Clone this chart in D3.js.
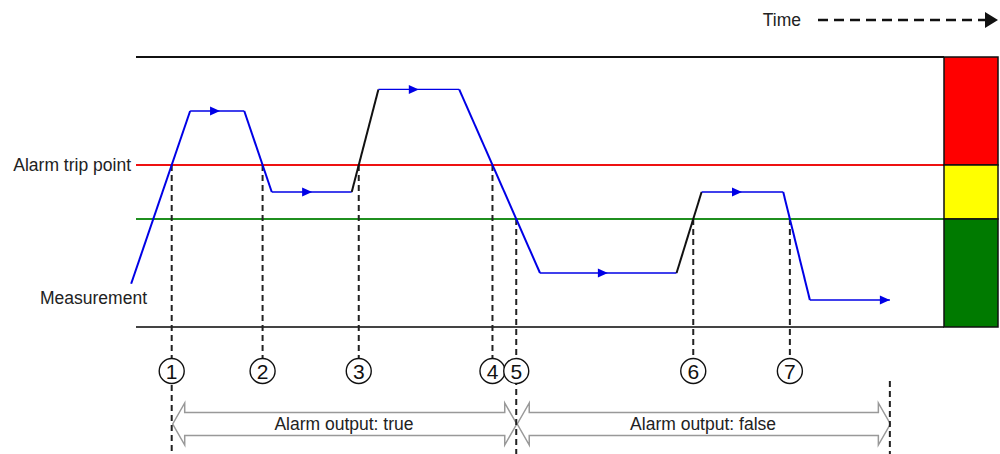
<!DOCTYPE html>
<html>
<head>
<meta charset="utf-8">
<script src="https://cdn.jsdelivr.net/npm/d3@7"></script>
<style>
  body { margin: 0; background: #fff; }
  svg { display: block; font-family: "Liberation Sans", Arial, sans-serif; }
</style>
</head>
<body>
<div id="chart"></div>
<script>
// measurement trace (time in s, value in % of range)
const times  = [-0.6, 6.7, 13.4, 16.8, 26.7, 30, 40, 50, 66.9, 70, 80.1, 83.4, 93.3];
const values = [16, 80, 80, 50, 50, 88, 88, 20, 20, 50, 50, 10, 10];
// colour of each segment between point i and i+1
const segColors = ["blue", "blue", "blue", "blue", "black", "blue", "blue", "blue", "black", "blue", "blue", "blue"];
// little direction arrows on the flat parts (tip time)
const arrowTimes = [10.4, 21.8, 35.0, 58.4, 75.0, 93.3];

// limits
const tripPoint = 60, resetPoint = 40;
const zoneNames  = ["alarm", "warning", "normal"];
const zoneLimits = [[60, 100], [40, 60], [0, 40]];
const zoneColors = ["#ff0000", "#ffff00", "#007a00"];

// events: which segment crosses which limit
const eventLabels = ["1", "2", "3", "4", "5", "6", "7"];
const eventSegs   = [0, 2, 4, 6, 6, 8, 10];
const eventLevels = [60, 60, 60, 60, 40, 40, 40];

// alarm output spans (start event index, end event index or end time)
const spanLabels = ["Alarm output: true", "Alarm output: false"];
const spanStart  = [0, 4];
const spanEnd    = [4, null];
const endTime = 93.3;

const width = 1000, height = 454;
const fontSize = 17.5;

(() => {

    const x = d3.scaleLinear().domain([0, 100]).range([136, 944]);
    const y = d3.scaleLinear().domain([0, 100]).range([327, 57]);

    const svg = d3.select("#chart").append("svg")
        .attr("width", width)
        .attr("height", height)
        .attr("viewBox", [0, 0, width, height]);

    // where a segment meets a limit
    const crossAt = (seg, level) => {
        const t0 = times[seg], t1 = times[seg + 1], v0 = values[seg], v1 = values[seg + 1];
        return t0 + (level - v0) / (v1 - v0) * (t1 - t0);
    };
    const events = eventLabels.map((l, i) => ({
        label: l,
        t: crossAt(eventSegs[i], eventLevels[i]),
        level: eventLevels[i]
    }));

    // frame lines
    svg.append("line")
        .attr("x1", x(0)).attr("x2", x(100))
        .attr("y1", y(100)).attr("y2", y(100))
        .attr("stroke", "#111").attr("stroke-width", 2);
    svg.append("line")
        .attr("x1", x(0)).attr("x2", x(100))
        .attr("y1", y(0)).attr("y2", y(0))
        .attr("stroke", "#444").attr("stroke-width", 2);

    svg.append("line")
        .attr("x1", x(0)).attr("x2", x(100))
        .attr("y1", y(tripPoint)).attr("y2", y(tripPoint))
        .attr("stroke", "#ee1111").attr("stroke-width", 2);
    svg.append("line")
        .attr("x1", x(0)).attr("x2", x(100))
        .attr("y1", y(resetPoint)).attr("y2", y(resetPoint))
        .attr("stroke", "#1f8f1f").attr("stroke-width", 2);

    // zone box on the right
    svg.append("g").selectAll("rect")
        .data(zoneNames)
        .join("rect")
            .attr("x", x(100))
            .attr("width", 54)
            .attr("y", (d, i) => y(zoneLimits[i][1]))
            .attr("height", (d, i) => y(zoneLimits[i][0]) - y(zoneLimits[i][1]))
            .attr("fill", (d, i) => zoneColors[i])
            .attr("stroke", "#111")
            .attr("stroke-width", 1.5);

    // labels
    svg.append("text")
        .attr("x", 131).attr("y", y(tripPoint))
        .attr("dy", "0.35em")
        .attr("text-anchor", "end")
        .attr("font-size", fontSize)
        .attr("fill", "#222")
        .text("Alarm trip point");
    svg.append("text")
        .attr("x", 147).attr("y", 298)
        .attr("dy", "0.35em")
        .attr("text-anchor", "end")
        .attr("font-size", fontSize)
        .attr("fill", "#222")
        .text("Measurement");

    // time arrow
    svg.append("text")
        .attr("x", 801).attr("y", 20)
        .attr("dy", "0.35em")
        .attr("text-anchor", "end")
        .attr("font-size", fontSize)
        .attr("fill", "#222")
        .text("Time");
    svg.append("line")
        .attr("x1", 818).attr("x2", 986)
        .attr("y1", 20).attr("y2", 20)
        .attr("stroke", "#111").attr("stroke-width", 2.5)
        .attr("stroke-dasharray", "10,6");
    svg.append("path")
        .attr("d", "M985,12L998,20L985,28Z")
        .attr("fill", "#111");

    // alarm output arrows
    const dblArrow = (x0, x1, cy) => {
        const hl = 12, hh = 21, sh = 11.5;
        return `M${x0},${cy}L${x0 + hl},${cy - hh}L${x0 + hl},${cy - sh}L${x1 - hl},${cy - sh}` +
            `L${x1 - hl},${cy - hh}L${x1},${cy}L${x1 - hl},${cy + hh}L${x1 - hl},${cy + sh}` +
            `L${x0 + hl},${cy + sh}L${x0 + hl},${cy + hh}Z`;
    };
    const spans = spanLabels.map((l, i) => ({
        label: l,
        t0: events[spanStart[i]].t,
        t1: spanEnd[i] == null ? endTime : events[spanEnd[i]].t
    }));
    const span = svg.append("g").selectAll("g")
        .data(spans)
        .join("g");
    span.append("path")
        .attr("d", d => dblArrow(x(d.t0) + 1, x(d.t1) + 0.5, 424))
        .attr("fill", "#fff")
        .attr("stroke", "#999")
        .attr("stroke-width", 1.5);
    span.append("text")
        .attr("x", d => (x(d.t0) + x(d.t1)) / 2)
        .attr("y", 424)
        .attr("dy", "0.35em")
        .attr("text-anchor", "middle")
        .attr("font-size", fontSize)
        .attr("fill", "#222")
        .text(d => d.label);

    // dashed event lines
    const bounds = new Set([...spanStart, ...spanEnd.filter(d => d != null)]);
    svg.append("g")
        .attr("stroke", "#222")
        .attr("stroke-width", 2)
        .attr("stroke-dasharray", "6,4")
        .selectAll("line")
        .data(events)
        .join("line")
            .attr("x1", d => x(d.t)).attr("x2", d => x(d.t))
            .attr("y1", d => y(d.level))
            .attr("y2", (d, i) => bounds.has(i) ? 454 : 358);
    svg.append("line")
        .attr("x1", x(endTime)).attr("x2", x(endTime))
        .attr("y1", 381).attr("y2", 454)
        .attr("stroke", "#222")
        .attr("stroke-width", 2)
        .attr("stroke-dasharray", "6,4");

    // numbered circles
    const mark = svg.append("g").selectAll("g")
        .data(events)
        .join("g")
            .attr("transform", d => `translate(${x(d.t)},371)`);
    mark.append("circle")
        .attr("r", 12.5)
        .attr("fill", "#fff")
        .attr("stroke", "#111")
        .attr("stroke-width", 1.4);
    mark.append("text")
        .attr("dy", "0.36em")
        .attr("text-anchor", "middle")
        .attr("font-size", 21)
        .attr("fill", "#111")
        .text(d => d.label);

    // measurement trace, segment by segment
    const segs = segColors.map((c, i) => ({
        a: [times[i], values[i]],
        b: [times[i + 1], values[i + 1]],
        color: c
    }));
    svg.append("g")
        .attr("fill", "none")
        .selectAll("line")
        .data(segs)
        .join("line")
            .attr("x1", d => x(d.a[0])).attr("y1", d => y(d.a[1]))
            .attr("x2", d => x(d.b[0])).attr("y2", d => y(d.b[1]))
            .attr("stroke", d => d.color === "blue" ? "#0000e6" : "#111")
            .attr("stroke-width", d => d.a[1] === d.b[1] ? 1.3 : 2);

    const valueAt = t => {
        const i = Math.min(d3.bisectRight(times, t), times.length - 1);
        const t0 = times[i - 1], t1 = times[i];
        return values[i - 1] + (values[i] - values[i - 1]) * (t1 === t0 ? 0 : (t - t0) / (t1 - t0));
    };
    svg.append("g").selectAll("path")
        .data(arrowTimes)
        .join("path")
            .attr("d", t => {
                const px = x(t), py = y(valueAt(t));
                return `M${px},${py}L${px - 10},${py - 4.5}L${px - 10},${py + 4.5}Z`;
            })
            .attr("fill", "#0000e6");

}).call(this);
</script>
</body>
</html>
